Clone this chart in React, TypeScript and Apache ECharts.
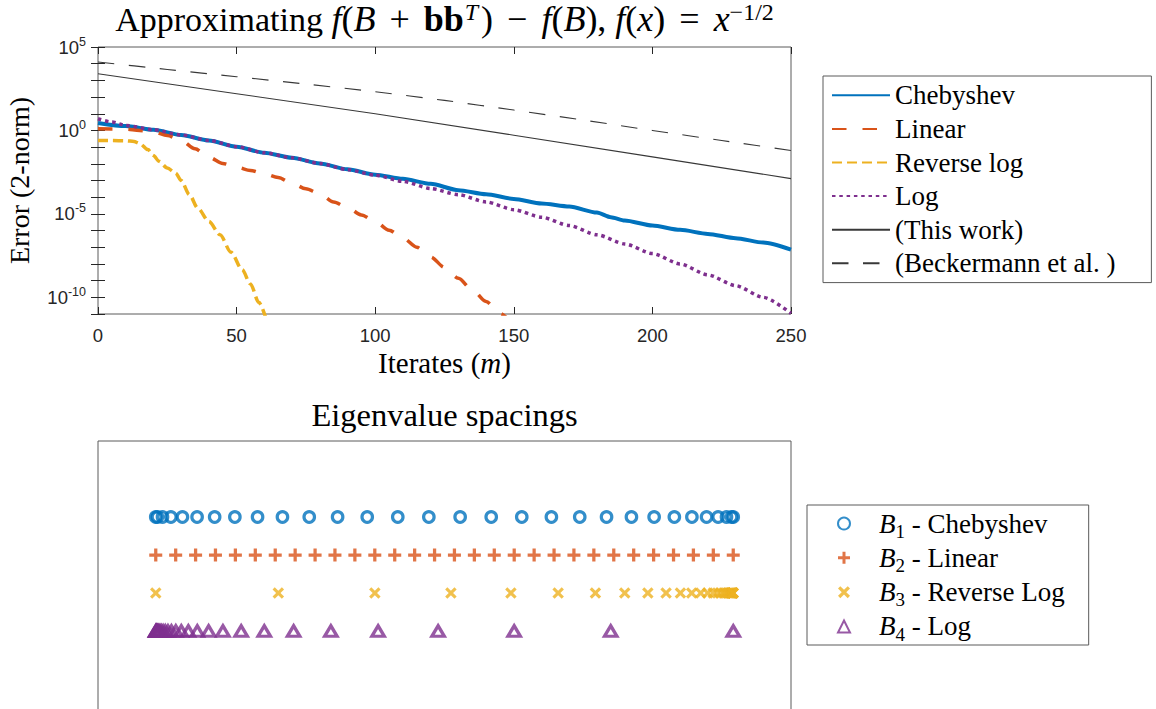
import React, { useEffect, useRef } from 'react';
import * as echarts from 'echarts';

// ---- Error curves: iterate m against 2-norm error ----
const chebIters = [0, 10, 20, 30, 40, 50, 60, 70, 80, 90, 100, 110, 120, 130, 140, 150, 160, 170, 180, 185, 190, 200, 210, 220, 230, 240, 250];
const chebErr = [2.82, 1.82, 1.1, 0.537, 0.251, 0.107, 0.0457, 0.0229, 0.0105, 0.00468, 0.00224, 0.00126, 6.3e-4, 2.63e-4, 1.51e-4, 7.9e-5, 4.17e-5, 2.75e-5, 1.2e-5, 6.3e-6, 4.0e-6, 2.0e-6, 1.1e-6, 6.3e-7, 3.5e-7, 1.9e-7, 7.1e-8];

const linIters = [0, 10, 15, 20, 25, 30, 35, 40, 45, 50, 55, 60, 65, 70, 75, 80, 85, 90, 95, 100, 105, 110, 115, 120, 125, 130, 135, 140, 145, 150];
const linErr = [1.26, 1.2, 1.0, 0.83, 0.5, 0.25, 0.079, 0.025, 0.0105, 0.0063, 0.004, 0.0025, 0.0015, 6.8e-4, 3.2e-4, 1.6e-4, 5.2e-5, 2.4e-5, 8.7e-6, 3.5e-6, 1.05e-6, 3.6e-7, 1.0e-7, 2.6e-8, 6.3e-9, 1.4e-9, 2.8e-10, 5.6e-11, 1.07e-11, 2e-12];

const revIters = [0, 5, 10, 13, 15, 18, 20, 22, 25, 28, 30, 33, 36, 40, 44, 48, 52, 55, 58, 61];
const revErr = [0.25, 0.25, 0.24, 0.22, 0.166, 0.071, 0.0316, 0.0141, 0.0056, 0.0028, 0.001, 1.4e-4, 2.2e-5, 3.5e-6, 5.6e-7, 5e-8, 4.5e-9, 6.3e-10, 5e-11, 3.2e-12];

const logIters = [0, 5, 10, 20, 30, 40, 50, 60, 70, 80, 90, 100, 110, 120, 130, 140, 150, 160, 170, 180, 190, 200, 210, 220, 230, 240, 250];
const logErr = [5.0, 3.16, 2.0, 1.1, 0.537, 0.251, 0.107, 0.0457, 0.0229, 0.0105, 0.00447, 0.00209, 8.9e-4, 3.3e-4, 1.41e-4, 5.2e-5, 1.78e-5, 6.3e-6, 2.0e-6, 5.6e-7, 1.58e-7, 4.2e-8, 1.0e-8, 2.2e-9, 5.0e-10, 1.0e-10, 1.1e-11];

const boundIters = [0, 50, 100, 150, 200, 250];
const boundErr = [2.5e3, 158, 10, 0.52, 0.026, 1.3e-3];

const beckIters = [0, 25, 50, 75, 100, 125, 150, 175, 200, 225, 250];
const beckErr = [1.26e4, 4.5e3, 1.66e3, 600, 209, 63, 16.6, 4.2, 1.0, 0.25, 0.063];

const xTicks = { min: 0, max: 250, step: 50 };
const yRange = { min: 1e-11, max: 1e5 };
const yTickValues = [1e-11, 1e-10, 1e-9, 1e-8, 1e-7, 1e-6, 1e-5, 1e-4, 1e-3, 1e-2, 1e-1, 1, 1e1, 1e2, 1e3, 1e4, 1e5];
const yLabelValues = [1e-10, 1e-5, 1, 1e5];

// ---- Eigenvalue positions (scaled to [0, 1]) ----
const chebyshevNodes = [0, 0.0029, 0.0117, 0.0262, 0.0462, 0.0716, 0.102, 0.137, 0.1763, 0.2194, 0.2658, 0.3149, 0.3662, 0.4191, 0.4729, 0.5271, 0.5809, 0.6338, 0.6851, 0.7342, 0.7806, 0.8237, 0.863, 0.898, 0.9284, 0.9538, 0.9738, 0.9883, 0.9971, 1];
const linearNodes = [0, 0.0345, 0.069, 0.1034, 0.1379, 0.1724, 0.2069, 0.2414, 0.2759, 0.3103, 0.3448, 0.3793, 0.4138, 0.4483, 0.4828, 0.5172, 0.5517, 0.5862, 0.6207, 0.6552, 0.6897, 0.7241, 0.7586, 0.7931, 0.8276, 0.8621, 0.8966, 0.931, 0.9655, 1];
const reverseLogNodes = [0, 0.2122, 0.3794, 0.5111, 0.615, 0.6968, 0.7613, 0.8121, 0.8521, 0.8837, 0.9085, 0.9281, 0.9436, 0.9558, 0.9653, 0.9729, 0.9789, 0.9835, 0.9872, 0.9902, 0.9925, 0.9943, 0.9957, 0.9968, 0.9977, 0.9984, 0.999, 0.9994, 0.9997, 1];
const logNodes = [0, 0.0003, 0.0006, 0.001, 0.0016, 0.0023, 0.0032, 0.0043, 0.0057, 0.0075, 0.0098, 0.0128, 0.0165, 0.0211, 0.0271, 0.0347, 0.0442, 0.0564, 0.0719, 0.0915, 0.1163, 0.1479, 0.1879, 0.2387, 0.3032, 0.385, 0.4889, 0.6206, 0.7878, 1];

const spacingNames = ['B1 - Chebyshev', 'B2 - Linear', 'B3 - Reverse Log', 'B4 - Log'];
const spacingRows = [4, 3, 2, 1];

const SERIF = '"Liberation Serif", "Times New Roman", serif';
const SANS = '"Liberation Sans", Arial, Helvetica, sans-serif';
const INK = '#262626';
const BOX = '#5a5a5a';
const BLUE = '#0072BD';
const ORANGE = '#D95319';
const YELLOW = '#EDB120';
const PURPLE = '#7E2F8E';
const THIN = '#383838';

const PLUS = 'path://M4.5,0h3v4.5h4.5v3h-4.5v4.5h-3v-4.5h-4.5v-3h4.5z';
const CROSS = 'path://M0,1.9L1.9,0L5,3.1L8.1,0L10,1.9L6.9,5L10,8.1L8.1,10L5,6.9L1.9,10L0,8.1L3.1,5z';

const pairs = (xs: number[], ys: number[]) => xs.map((x, i) => [x, ys[i]]);
const onRow = (xs: number[], r: number) => xs.map((x) => [x, r]);

const tx = (size: number, lh: number, extra: Record<string, unknown> = {}) => ({
  fontFamily: SERIF,
  fontSize: size,
  lineHeight: lh,
  color: '#000',
  fontWeight: 'normal',
  fontStyle: 'normal',
  ...extra,
});

const titleRich = {
  r: tx(34, 38),
  mr: tx(36, 38),
  mi: tx(36, 38, { fontStyle: 'italic' }),
  mb: tx(36, 38, { fontWeight: 'bold' }),
  op: tx(36, 38, { padding: [0, 14, 0, 14] }),
  sup: tx(24, 22, { verticalAlign: 'top' }),
  supi: tx(24, 22, { verticalAlign: 'top', fontStyle: 'italic', padding: [0, 3, 0, 1] }),
};

const legendRich = {
  r: tx(27, 34.3),
  i: tx(27, 34.3, { fontStyle: 'italic', padding: [0, 0, 0, 24] }),
  sub: tx(19, 22, { verticalAlign: 'bottom' }),
};

const spacingLabel = (name: string) => {
  const [head, rest] = name.split(' - ');
  return `{i|B}{sub|${head.slice(1)}}{r| - ${rest}}`;
};

const tickLabelStyle = {
  fontFamily: SANS,
  fontSize: 18.5,
  color: INK,
};

const boxTick = { show: true, inside: true, length: 7, lineStyle: { color: INK, width: 1 } };

function buildOption() {
  const lineBase = {
    type: 'line' as const,
    xAxisIndex: 0,
    yAxisIndex: 0,
    symbol: 'none',
    showSymbol: false,
    silent: true,
  };
  return {
    animation: false,
    backgroundColor: '#ffffff',
    title: [
      {
        text:
          '{r|Approximating }{mi|f}{mr|(}{mi|B}{op|+}{mb|bb}{supi|T}{mr|)}{op|−}{mi|f}{mr|(}{mi|B}{mr|), }{mi|f}{mr|(}{mi|x}{mr|)}{op|=}{mi|x}{sup|−1/2}',
        left: 444.5,
        top: 0,
        textAlign: 'center',
        padding: 0,
        textStyle: { ...tx(34, 38), rich: titleRich },
      },
      {
        text: 'Eigenvalue spacings',
        left: 444.5,
        top: 396,
        textAlign: 'center',
        padding: 0,
        textStyle: tx(32.5, 38),
      },
    ],
    grid: [
      { left: 98, top: 47, width: 693, height: 267, show: true, borderColor: BOX, borderWidth: 1, backgroundColor: 'transparent', outerBoundsMode: 'none', containLabel: false },
      { left: 98, top: 441, width: 693, height: 304, show: true, borderColor: BOX, borderWidth: 1, backgroundColor: 'transparent', outerBoundsMode: 'none', containLabel: false },
    ],
    xAxis: [
      {
        type: 'value',
        gridIndex: 0,
        position: 'bottom',
        min: xTicks.min,
        max: xTicks.max,
        interval: xTicks.step,
        axisLine: { show: false },
        axisTick: boxTick,
        axisLabel: { ...tickLabelStyle, margin: 12, alignMinLabel: 'center', alignMaxLabel: 'center' },
        splitLine: { show: false },
        name: '{r|Iterates (}{i|m}{r|)}',
        nameLocation: 'middle',
        nameGap: 28,
        nameTextStyle: { ...tx(29, 34), rich: { r: tx(29, 34), i: tx(29, 34, { fontStyle: 'italic' }) } },
      },
      {
        type: 'value',
        gridIndex: 0,
        position: 'top',
        min: xTicks.min,
        max: xTicks.max,
        interval: xTicks.step,
        axisLine: { show: false },
        axisTick: boxTick,
        axisLabel: { show: false },
        splitLine: { show: false },
      },
      { type: 'value', gridIndex: 1, min: -0.1, max: 1.1, show: false },
    ],
    yAxis: [
      {
        type: 'log',
        logBase: 10,
        gridIndex: 0,
        position: 'left',
        min: yRange.min,
        max: yRange.max,
        splitNumber: 16,
        axisLine: { show: false },
        axisTick: { ...boxTick, customValues: yTickValues },
        axisLabel: {
          margin: 12,
          customValues: yLabelValues,
          hideOverlap: false,
          formatter: (v: number) => {
            const e = Math.round(Math.log10(v));
            if (e % 5 !== 0) return '';
            return `{b|10}{s|${e}}`;
          },
          rich: {
            b: { ...tickLabelStyle, lineHeight: 24 },
            s: { fontFamily: SANS, fontSize: 12.5, color: INK, lineHeight: 13, verticalAlign: 'top' },
          },
        },
        splitLine: { show: false },
        minorTick: { show: false },
        name: 'Error (2-norm)',
        nameLocation: 'middle',
        nameRotate: 90,
        nameGap: 61,
        nameTextStyle: tx(28, 34),
      },
      {
        type: 'log',
        logBase: 10,
        gridIndex: 0,
        position: 'right',
        min: yRange.min,
        max: yRange.max,
        splitNumber: 16,
        axisLine: { show: false },
        axisTick: { ...boxTick, customValues: yTickValues },
        axisLabel: { show: false },
        splitLine: { show: false },
      },
      { type: 'value', gridIndex: 1, min: -2, max: 6, show: false },
    ],
    legend: [
      {
        orient: 'vertical',
        left: 823,
        top: 76,
        padding: [2.5, 36, 2.5, 8],
        itemWidth: 58,
        itemHeight: 14,
        itemGap: 0,
        selectedMode: false,
        borderColor: BOX,
        borderWidth: 1,
        backgroundColor: '#fff',
        itemStyle: { opacity: 0 },
        textStyle: tx(27, 33.6),
        data: ['Chebyshev', 'Linear', 'Reverse log', 'Log', '(This work)', '(Beckermann et al. )'],
      },
      {
        orient: 'vertical',
        left: 807,
        top: 505,
        padding: [1.4, 24, 1.4, 30],
        itemWidth: 12,
        itemHeight: 12,
        itemGap: 0,
        selectedMode: false,
        borderColor: BOX,
        borderWidth: 1,
        backgroundColor: '#fff',
        textStyle: { ...tx(27, 34.3), rich: legendRich },
        formatter: spacingLabel,
        data: spacingNames,
      },
    ],
    series: [
      {
        ...lineBase,
        name: 'Chebyshev',
        data: pairs(chebIters, chebErr),
        smooth: 0.25,
        smoothMonotone: 'x',
        color: BLUE,
        itemStyle: { color: BLUE },
        lineStyle: { color: BLUE, width: 4 },
      },
      {
        ...lineBase,
        name: 'Linear',
        data: pairs(linIters, linErr),
        smooth: 0.3,
        smoothMonotone: 'x',
        color: ORANGE,
        itemStyle: { color: ORANGE },
        lineStyle: { color: ORANGE, width: 3.5, type: [14.5, 16] },
      },
      {
        ...lineBase,
        name: 'Reverse log',
        data: pairs(revIters, revErr),
        smooth: 0.3,
        smoothMonotone: 'x',
        color: YELLOW,
        itemStyle: { color: YELLOW },
        lineStyle: { color: YELLOW, width: 3.5, type: [10, 5] },
      },
      {
        ...lineBase,
        name: 'Log',
        data: pairs(logIters, logErr),
        smooth: 0.25,
        smoothMonotone: 'x',
        color: PURPLE,
        itemStyle: { color: PURPLE },
        lineStyle: { color: PURPLE, width: 3.5, type: [3.5, 3.8] },
      },
      {
        ...lineBase,
        name: '(This work)',
        data: pairs(boundIters, boundErr),
        color: THIN,
        itemStyle: { color: THIN },
        lineStyle: { color: THIN, width: 1.1 },
      },
      {
        ...lineBase,
        name: '(Beckermann et al. )',
        data: pairs(beckIters, beckErr),
        smooth: 0.2,
        color: THIN,
        itemStyle: { color: THIN },
        lineStyle: { color: THIN, width: 1.1, type: [16.5, 14.5] },
      },
      {
        type: 'scatter',
        name: spacingNames[0],
        xAxisIndex: 2,
        yAxisIndex: 2,
        silent: true,
        data: onRow(chebyshevNodes, spacingRows[0]),
        symbol: 'circle',
        symbolSize: 10.5,
        itemStyle: { color: 'rgba(0,0,0,0)', borderColor: BLUE, borderWidth: 3.2 },
      },
      {
        type: 'scatter',
        name: spacingNames[1],
        xAxisIndex: 2,
        yAxisIndex: 2,
        silent: true,
        data: onRow(linearNodes, spacingRows[1]),
        symbol: PLUS,
        symbolSize: 13,
        itemStyle: { color: ORANGE },
      },
      {
        type: 'scatter',
        name: spacingNames[2],
        xAxisIndex: 2,
        yAxisIndex: 2,
        silent: true,
        data: onRow(reverseLogNodes, spacingRows[2]),
        symbol: CROSS,
        symbolSize: 11.5,
        itemStyle: { color: YELLOW },
      },
      {
        type: 'scatter',
        name: spacingNames[3],
        xAxisIndex: 2,
        yAxisIndex: 2,
        silent: true,
        data: onRow(logNodes, spacingRows[3]),
        symbol: 'triangle',
        symbolSize: [12.5, 10.5],
        itemStyle: { color: 'rgba(0,0,0,0)', borderColor: PURPLE, borderWidth: 3.2 },
      },
    ],
  };
}

export default function App() {
  const ref = useRef<HTMLDivElement>(null);
  useEffect(() => {
    document.body.style.margin = '0';
    const el = ref.current;
    if (!el) return;
    const chart = echarts.init(el, undefined, { renderer: 'svg' });
    chart.setOption(buildOption() as any);
    return () => chart.dispose();
  }, []);
  return <div ref={ref} style={{ width: 1156, height: 709 }} />;
}
